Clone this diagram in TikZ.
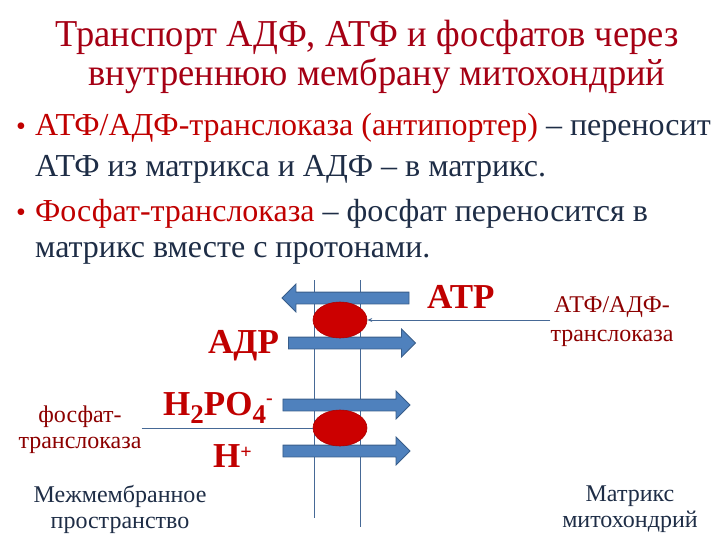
\documentclass[tikz,border=0pt]{standalone}
\usepackage{fontspec}
\setmainfont{Liberation Serif}
\usetikzlibrary{shapes.geometric,shapes.arrows,arrows.meta}
\definecolor{titlered}{RGB}{165,0,20}
\definecolor{darkred}{RGB}{192,0,0}
\definecolor{labelred}{RGB}{140,0,0}
\definecolor{navy}{RGB}{30,45,70}
\definecolor{arrowblue}{RGB}{79,129,189}
\definecolor{arrowedge}{RGB}{56,93,138}
\definecolor{membraneblue}{RGB}{70,105,150}
\definecolor{carrierred}{RGB}{204,0,0}
\newcommand{\lowidx}[1]{\raisebox{-8pt}{\fontsize{27}{27}\selectfont #1}}
\newcommand{\highidx}[2]{\raisebox{#1}{\fontsize{20}{20}\selectfont #2}}

\begin{document}
\begin{tikzpicture}[x=1pt,y=-1pt,
    title/.style={anchor=base, inner sep=0pt, text=titlered, font=\fontsize{38}{38}\selectfont},
    bodytext/.style={anchor=base west, inner sep=0pt, text=navy, font=\fontsize{32}{32}\selectfont},
    bulletmark/.style={anchor=base, inner sep=0pt, text=darkred, font=\fontsize{28}{28}\selectfont},
    flow/.style={single arrow, draw=arrowedge, fill=arrowblue, line width=0.8pt,
        minimum height=127pt, minimum width=27pt, inner xsep=0pt, inner ysep=5.5pt,
        single arrow head extend=8pt, single arrow head indent=0pt},
    carrier/.style={ellipse, fill=carrierred, draw=carrierred!85!black, line width=0.6pt,
        minimum width=54pt, minimum height=36pt, inner sep=0pt},
    biglabel/.style={anchor=base west, inner sep=0pt, text=darkred, font=\bfseries\fontsize{35}{35}\selectfont},
    smalllabel/.style={align=center, inner sep=0pt, text=labelred, font=\fontsize{24}{26}\selectfont},
    sidelabel/.style={align=center, inner sep=0pt, text=navy, font=\fontsize{24}{26}\selectfont},
    membrane/.style={draw=membraneblue, line width=0.8pt},
    link/.style={draw=membraneblue, line width=1pt}]
    \useasboundingbox (0,0) rectangle (720,540);

    \node[title] (title1) at (367,47) {\scalebox{0.96}[1]{Транспорт АДФ, АТФ и фосфатов через}};
    \node[title] (title2) at (377,86) {\scalebox{0.96}[1]{внутреннюю мембрану митохондрий}};

    \node[bulletmark] (bul1) at (21,136) {\textbullet};
    \node[bodytext] (line1) at (35,136) {\textcolor{darkred}{АТФ/АДФ-транслоказа (антипортер)} – переносит};
    \node[bodytext] (line2) at (35,177) {АТФ из матрикса и АДФ – в матрикс.};
    \node[bulletmark] (bul2) at (21,222) {\textbullet};
    \node[bodytext] (line3) at (35,222) {\textcolor{darkred}{Фосфат-транслоказа} – фосфат переносится в};
    \node[bodytext] (line4) at (35,257) {матрикс вместе с протонами.};

    \draw[membrane] (314,280) -- (314,518);
    \draw[membrane] (360,280) -- (360,527);

    \node[flow, shape border rotate=180] (atpflow) at (348.5,298) {};
    \node[flow] (adpflow) at (349,343) {};
    \node[flow] (phosflow) at (343.5,405) {};
    \node[flow] (protflow) at (343.5,451) {};

    \node[carrier] (antiport) at (340,320) {};
    \node[carrier] (phosport) at (340,428) {};

    \node[biglabel] (atp) at (427,308) {ATP};
    \node[biglabel] (adp) at (208,353) {АДР};
    \node[biglabel] (phos) at (163,415) {H\lowidx{2}PO\lowidx{4}\highidx{11pt}{-}};
    \node[biglabel] (prot) at (213,467) {H\highidx{9pt}{+}};

    \node[smalllabel, font=\fontsize{24}{29}\selectfont] (antilabel) at (612,322) {АТФ/АДФ-\\транслоказа};
    \node[smalllabel] (phoslabel) at (80,430) {фосфат-\\транслоказа};
    \node[sidelabel] (ims) at (120,509) {Межмембранное\\пространство};
    \node[sidelabel] (matrix) at (630,509) {Матрикс\\митохондрий};

    \draw[link, -{Stealth[length=5pt,width=4pt]}] (antilabel.west |- antiport.east) -- (antiport.east);
    \draw[link] (phoslabel.east |- phosport.west) -- (phosport.west);
\end{tikzpicture}
\end{document}
